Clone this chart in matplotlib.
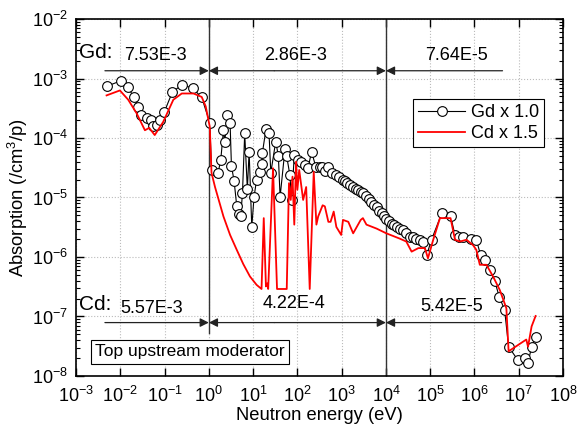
import numpy as np
import matplotlib.pyplot as plt

plt.rcParams['font.family'] = ['Liberation Sans', 'DejaVu Sans']
plt.rcParams['axes.unicode_minus'] = False
plt.rcParams['mathtext.default'] = 'regular'

# Gd x 1.0 (energy in eV, absorption /cm3/p)
gd_e = [4.9e-3, 1.02e-2, 1.48e-2, 2.04e-2, 2.57e-2, 3.0e-2, 4.0e-2, 4.9e-2, 5.6e-2, 6.6e-2,
        7.9e-2, 9.8e-2, 0.151, 0.25, 0.43, 0.69, 1.05, 1.15, 1.62, 1.86,
        2.14, 2.29, 2.63, 3.02, 3.24, 3.72, 4.27, 4.79, 5.25, 5.75,
        6.46, 7.41, 8.13, 9.33, 10.5, 12.0, 14.1, 15.5, 16.2, 19.5,
        22.9, 25.1, 32.4, 37.2, 40.7, 52.5, 57.5, 67.6, 74.1, 85.1,
        105, 123, 145, 174, 209, 263, 316, 355, 417, 501,
        603, 759, 891, 1047, 1175, 1349, 1549, 1820, 2089, 2399,
        2754, 3090, 3548, 4074, 4677, 5370, 6166, 7079, 7943, 8913,
        1.02e4, 1.17e4, 1.35e4, 1.55e4, 1.78e4, 2.04e4, 2.45e4, 2.88e4, 3.47e4, 4.07e4,
        4.9e4, 5.75e4, 6.9e4, 8.3e4, 1.07e5, 1.82e5, 2.88e5, 3.63e5, 4.47e5, 5.5e5,
        8.5e5, 1.1e6, 1.38e6, 1.7e6, 2.24e6, 2.88e6, 3.63e6, 4.79e6, 5.9e6, 9.5e6,
        1.38e7, 1.62e7, 1.95e7, 2.5e7]
gd_a = [7.4e-4, 9.1e-4, 7.2e-4, 4.8e-4, 3.3e-4, 2.45e-4, 2.14e-4, 2.0e-4, 1.58e-4, 1.66e-4,
        2.04e-4, 2.7e-4, 6.0e-4, 7.8e-4, 6.9e-4, 4.8e-4, 1.82e-4, 2.9e-5, 2.6e-5, 4.3e-5,
        1.35e-4, 8.7e-5, 2.45e-4, 1.82e-4, 3.4e-5, 1.9e-5, 7.2e-6, 5.2e-6, 4.9e-6, 1.17e-5,
        1.2e-4, 1.38e-5, 5.9e-5, 3.2e-6, 1.02e-5, 2.0e-5, 2.7e-5, 3.6e-5, 5.6e-5, 1.4e-4,
        1.2e-4, 2.6e-5, 8.7e-5, 5.0e-5, 1.02e-5, 6.5e-5, 4.9e-5, 2.4e-5, 9.1e-6, 5.1e-5,
        4.3e-5, 4.0e-5, 3.5e-5, 3.1e-5, 5.9e-5, 3.2e-5, 3.2e-5, 3.2e-5, 2.8e-5, 3.2e-5,
        2.6e-5, 2.4e-5, 2.2e-5, 2.0e-5, 1.86e-5, 1.74e-5, 1.62e-5, 1.51e-5, 1.41e-5, 1.32e-5,
        1.23e-5, 1.17e-5, 1.05e-5, 9.5e-6, 8.5e-6, 7.6e-6, 6.8e-6, 6.0e-6, 5.4e-6, 4.8e-6,
        4.4e-6, 4.0e-6, 3.6e-6, 3.4e-6, 3.2e-6, 2.95e-6, 2.8e-6, 2.5e-6, 2.2e-6, 2.14e-6,
        2.04e-6, 1.9e-6, 1.82e-6, 1.07e-6, 1.95e-6, 5.4e-6, 4.9e-6, 2.35e-6, 2.2e-6, 2.2e-6,
        2.0e-6, 1.95e-6, 1.07e-6, 8.9e-7, 6.0e-7, 3.9e-7, 2.14e-7, 1.29e-7, 3.1e-8, 1.86e-8,
        2.0e-8, 1.66e-8, 3.1e-8, 4.6e-8]

# Cd x 1.5
cd_e = [4.9e-3, 9.8e-3, 1.51e-2, 2.34e-2, 3.6e-2, 4.5e-2, 6.0e-2, 9.3e-2, 0.158, 0.245,
        0.45, 0.69, 0.85, 1.05, 1.15, 1.38, 2.14, 3.02, 4.27, 6.0,
        8.5, 12.0, 15.5, 17.4, 19.5, 20.9, 21.9, 28.2, 34.7, 57.5,
        64.6, 70.8, 77.6, 85.1, 93.3, 100, 110, 135, 158, 190,
        234, 269, 295, 372, 417, 501, 562, 661, 759, 977,
        1072, 1413, 1820, 2692, 3020, 3630, 6166, 1.02e4, 2.04e4, 2.88e4,
        3.8e4, 5.4e4, 7.6e4, 8.9e4, 1.17e5, 1.66e5, 2.88e5, 3.63e5, 4.7e5, 6.6e5,
        9.3e5, 1.1e6, 1.32e6, 1.86e6, 2.63e6, 3.72e6, 5.25e6, 5.9e6, 1.48e7, 1.62e7,
        1.95e7, 2.4e7]
cd_a = [5.2e-4, 6.3e-4, 4.4e-4, 2.6e-4, 1.35e-4, 1.48e-4, 1.12e-4, 1.86e-4, 4.4e-4, 5.6e-4,
        5.6e-4, 4.9e-4, 3.4e-4, 1.55e-4, 2.6e-5, 1.5e-5, 4.8e-6, 2.35e-6, 1.32e-6, 7.6e-7,
        4.7e-7, 3.4e-7, 2.9e-7, 4.5e-6, 3.2e-7, 3.6e-7, 2.9e-7, 3.1e-5, 2.9e-7, 2.9e-7,
        1.74e-5, 9.1e-6, 2.24e-5, 3.5e-6, 4.0e-5, 1.35e-5, 2.9e-5, 9.1e-6, 1.5e-5, 2.9e-7,
        2.7e-5, 3.5e-6, 4.8e-6, 7.4e-6, 7.1e-6, 3.9e-6, 3.9e-6, 5.8e-6, 3.2e-6, 2.35e-6,
        4.2e-6, 3.9e-6, 2.5e-6, 4.2e-6, 4.5e-6, 3.5e-6, 3.0e-6, 2.5e-6, 2.04e-6, 1.82e-6,
        1.23e-6, 1.41e-6, 1.41e-6, 9.5e-7, 1.95e-6, 4.5e-6, 4.5e-6, 1.95e-6, 1.82e-6, 1.95e-6,
        1.58e-6, 1.32e-6, 7.4e-7, 7.4e-7, 4.7e-7, 2.8e-7, 1.38e-7, 2.6e-8, 4.1e-8, 3.1e-8,
        6.8e-8, 1.02e-7]

gd_labels = ['7.53E-3', '2.86E-3', '7.64E-5']
cd_labels = ['5.57E-3', '4.22E-4', '5.42E-5']

fig = plt.figure(figsize=(5.86, 4.30), dpi=100)
ax = fig.add_axes([0.1297, 0.1256, 0.8311, 0.8302])

ax.plot(gd_e, gd_a, '-o', color='k', lw=0.8, ms=7, mfc='white', mec='k', mew=0.8,
        label='Gd x 1.0', zorder=3)
ax.plot(cd_e, cd_a, '-', color='red', lw=1.3, label='Cd x 1.5', zorder=4)

ax.set_xscale('log')
ax.set_yscale('log')
ax.set_xlim(1e-3, 1e8)
ax.set_ylim(1e-8, 1e-2)
ax.set_xticks([10.0**k for k in range(-3, 9)])
ax.set_yticks([10.0**k for k in range(-8, -1)])
ax.grid(True, which='major', ls=':', color='#bbbbbb', lw=0.8)
ax.tick_params(which='both', direction='in', top=True, right=True, labelsize=13)
ax.tick_params(which='major', length=6, width=1)
ax.tick_params(which='minor', length=3, width=0.8)
ax.tick_params(axis='x', which='major', pad=7)
ax.tick_params(axis='y', which='major', pad=6)
for s in ax.spines.values():
    s.set_linewidth(1.2)

ax.set_xlabel('Neutron energy (eV)', fontsize=13.2, labelpad=1)
ax.set_ylabel('Absorption (/cm$^3$/p)', fontsize=13.2, labelpad=1)

# boundaries
ax.axvline(1.0, ymin=0.12, ymax=1, color='#333333', lw=1.0, zorder=2)
ax.axvline(1e4, color='#333333', lw=1.0, zorder=2)

arr = dict(arrowstyle='-|>', color='#222222', lw=0.9, mutation_scale=13, shrinkA=0, shrinkB=0)
for yy, xl, xr in [(1.35e-3, 4.5e-3, 4.3e6), (7.9e-8, 4.5e-3, 4.1e6)]:
    ax.annotate('', xy=(1.0, yy), xytext=(xl, yy), arrowprops=arr)
    ax.annotate('', xy=(1.0, yy), xytext=(30, yy), arrowprops=arr)
    ax.annotate('', xy=(1e4, yy), xytext=(30, yy), arrowprops=arr)
    ax.annotate('', xy=(1e4, yy), xytext=(xr, yy), arrowprops=arr)

ax.text(0.006, 0.905, 'Gd:', transform=ax.transAxes, fontsize=15, va='center', ha='left')
ax.text(0.006, 0.199, 'Cd:', transform=ax.transAxes, fontsize=15, va='center', ha='left')
for xp, t in zip([0.163, 0.451, 0.782], gd_labels):
    ax.text(xp, 0.899, t, transform=ax.transAxes, fontsize=13, va='center', ha='center')
for xp, yp, t in zip([0.155, 0.447, 0.771], [0.190, 0.204, 0.194], cd_labels):
    ax.text(xp, yp, t, transform=ax.transAxes, fontsize=13, va='center', ha='center')

ax.text(0.04, 0.068, 'Top upstream moderator', transform=ax.transAxes, fontsize=12.5,
        va='center', ha='left', zorder=6,
        bbox=dict(boxstyle='square,pad=0.25', fc='white', ec='k', lw=0.8))

leg = ax.legend(loc='upper left', bbox_to_anchor=(0.692, 0.776), borderaxespad=0,
                fancybox=False, edgecolor='k', framealpha=1, fontsize=13,
                handlelength=2.6, borderpad=0.3, labelspacing=0.2, handletextpad=0.3)
leg.get_frame().set_linewidth(0.8)

fig.savefig('out.png', dpi=100)
